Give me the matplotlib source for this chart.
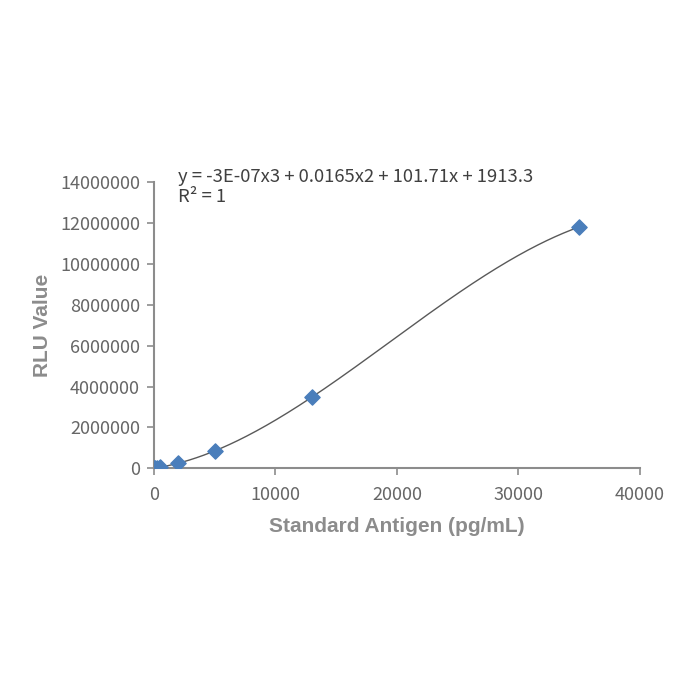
import matplotlib.pyplot as plt
import numpy as np

# standard curve points
conc = [0, 100, 250, 500, 2000, 5000, 13000, 35000]
rlu = [2000, 12000, 28000, 55000, 250000, 850000, 3480000, 11800000]
x_ticks = [0, 10000, 20000, 30000, 40000]
y_ticks = [0, 2000000, 4000000, 6000000, 8000000, 10000000, 12000000, 14000000]
equation = "y = -3E-07x3 + 0.0165x2 + 101.71x + 1913.3"
r2_text = "R² = 1"

gray = '#8c8c8c'
num_font = ['Noto Sans CJK SC', 'DejaVu Sans']

fig = plt.figure(figsize=(7, 7), dpi=100)
ax = fig.add_axes([0.22, 0.331, 0.694, 0.409])

# cubic trendline from the points
coef = np.polyfit(conc, rlu, 3)
xs = np.linspace(0, max(conc), 300)
ax.plot(xs, np.polyval(coef, xs), color='#595959', linewidth=1.0, zorder=2)
ax.scatter(conc, rlu, marker='D', s=60, color='#4a7ebb', zorder=3)

ax.set_xlim(0, 40000)
ax.set_ylim(0, 14000000)
ax.set_xticks(x_ticks)
ax.set_yticks(y_ticks)
ax.set_xticklabels([str(v) for v in x_ticks], family=num_font, fontsize=13, color='#666666')
ax.set_yticklabels([str(v) for v in y_ticks], family=num_font, fontsize=13, color='#666666')
ax.tick_params(axis='both', color=gray, length=5, width=1.2)
ax.tick_params(axis='x', pad=8)
ax.tick_params(axis='y', pad=5)

for s in ['top', 'right']:
    ax.spines[s].set_visible(False)
for s in ['left', 'bottom']:
    ax.spines[s].set_color(gray)
    ax.spines[s].set_linewidth(1.5)

ax.set_xlabel("Standard Antigen (pg/mL)", family='Liberation Sans', fontsize=15,
              fontweight='bold', color=gray, labelpad=9)
ax.set_ylabel("RLU Value", family='Liberation Sans', fontsize=15,
              fontweight='bold', color=gray, labelpad=6)

fig.text(178/700, 1 - 177/700, equation, family=num_font, fontsize=13.3,
         color='#404040', va='center')
fig.text(178/700, 1 - 197/700, r2_text, family=num_font, fontsize=13.3,
         color='#404040', va='center')

fig.savefig('out.png', dpi=100)
